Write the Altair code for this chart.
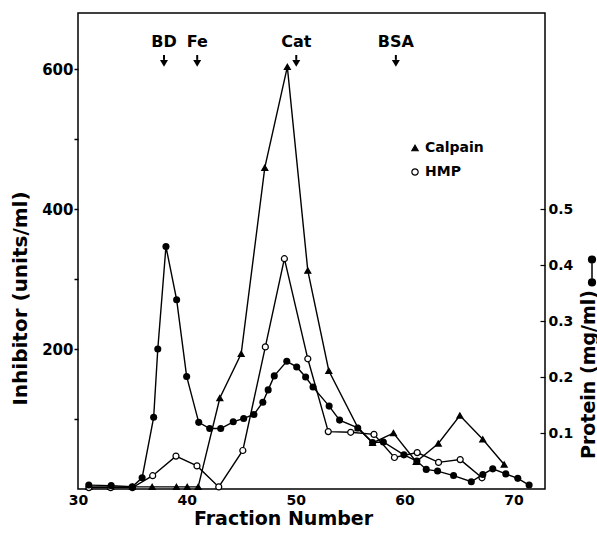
import altair as alt
import pandas as pd

# ---------------- data ----------------
calp_x = [31, 33, 35, 36.81, 39.04, 40.03, 41.04, 43.03, 44.99, 47.16, 49.23, 51.11,
          53.04, 55.73, 57.06, 58.98, 61.07, 63.10, 65.08, 67.18, 69.15]
calp_y = [3, 3, 3, 3, 3, 3, 3, 130, 193, 459, 603, 312,
          169, 87, 66, 80, 39, 65, 105, 71, 35]

hmp_x = [31, 33, 35, 36.86, 39.0, 40.93, 42.93, 45.14, 47.21, 48.96, 51.11, 52.99,
         55.05, 57.19, 59.07, 61.16, 63.12, 65.11, 67.11]
hmp_y = [2, 2, 2, 19, 47, 33, 3, 55, 203, 329, 186, 82,
         81, 78, 45, 52, 38, 42, 16]

prot_x = [30.99, 33.05, 34.98, 35.89, 36.95, 37.33, 38.08, 39.06, 39.98, 41.09, 42.10,
          43.11, 44.26, 45.22, 46.16, 46.98, 47.47, 48.03, 49.18, 50.09, 50.91, 51.59,
          53.07, 54.03, 55.70, 57.06, 58.05, 59.94, 61.13, 61.99, 63.03, 64.50, 66.13,
          67.19, 68.10, 69.30, 70.40, 71.44]
prot_y = [0.007, 0.006, 0.004, 0.020, 0.128, 0.250, 0.433, 0.338, 0.201, 0.119, 0.108,
          0.108, 0.120, 0.126, 0.133, 0.155, 0.177, 0.202, 0.228, 0.218, 0.200, 0.182,
          0.148, 0.123, 0.109, 0.083, 0.084, 0.061, 0.050, 0.035, 0.032, 0.024, 0.013,
          0.026, 0.036, 0.027, 0.019, 0.007]

marker_names = ["BD", "Fe", "Cat", "BSA"]
marker_x = [37.9, 40.95, 50.05, 59.2]
label_level = 638
shaft_top_level = 620
shaft_bot_level = 613
head_level = 608

x_ticks = [30, 40, 50, 60, 70]
left_ticks = [100, 200, 300, 400, 500, 600]
right_ticks = [0.1, 0.2, 0.3, 0.4, 0.5]

FONT = "DejaVu Sans"
PROT_SYMBOL = ("M0,-0.95L0,0.95"
               "M0.28,-0.95A0.28,0.28,0,1,1,-0.28,-0.95A0.28,0.28,0,1,1,0.28,-0.95Z"
               "M0.28,0.95A0.28,0.28,0,1,1,-0.28,0.95A0.28,0.28,0,1,1,0.28,0.95Z")

# ---------------- tables ----------------
df_ch = pd.concat([
    pd.DataFrame({"fraction": calp_x, "value": calp_y, "series": "Calpain"}),
    pd.DataFrame({"fraction": hmp_x, "value": hmp_y, "series": "HMP"}),
])
df_p = pd.DataFrame({"fraction": prot_x, "protein": prot_y, "pseries": "Protein"})
df_m = pd.DataFrame({
    "name": marker_names, "fraction": marker_x,
    "label_y": [label_level] * 4, "shaft_top": [shaft_top_level] * 4,
    "shaft_bot": [shaft_bot_level] * 4, "head": [head_level] * 4,
})

xscale = alt.Scale(domain=[30, 72.9], nice=False, zero=False)
lscale = alt.Scale(domain=[0, 680], nice=False)
rscale = alt.Scale(domain=[0, 0.85], nice=False)

x_axis = alt.Axis(
    values=x_ticks, ticks=False, domain=False, grid=False, labelFlush=False,
    labelFont=FONT, labelFontWeight="bold", labelFontSize=14, labelColor="black",
    labelPadding=4,
    title="Fraction Number", titleFont=FONT, titleFontWeight="bold", titleFontSize=19,
    titleColor="black", titleX=205, titleY=35, titleBaseline="alphabetic",
    titleAlign="center")

left_axis = alt.Axis(
    values=left_ticks, labelExpr="datum.value % 200 == 0 ? datum.label : ''",
    labelFlush=False,
    tickSize=4, tickColor="black", tickWidth=1.5, domain=False, grid=False,
    labelFont=FONT, labelFontWeight="bold", labelFontSize=15, labelColor="black",
    labelPadding=1,
    title="Inhibitor (units/ml)", titleFont=FONT, titleFontWeight="bold",
    titleFontSize=20, titleColor="black", titleX=-52, titleY=285, titleAngle=270,
    titleBaseline="alphabetic", titleAlign="center")

right_axis = alt.Axis(
    orient="right", values=right_ticks, format=".1f", offset=-5, labelFlush=False,
    tickSize=5, tickColor="black", tickWidth=1.2, domain=False, grid=False,
    labelFont=FONT, labelFontWeight="bold", labelFontSize=14, labelColor="black",
    labelPadding=3,
    title="Protein (mg/ml)", titleFont=FONT, titleFontWeight="bold",
    titleFontSize=19, titleColor="black", titleX=54, titleY=361, titleAngle=270,
    titleBaseline="alphabetic", titleAlign="center")


def xe():
    return alt.X("fraction:Q", scale=xscale, axis=x_axis)


def yl(field):
    return alt.Y(field, scale=lscale, axis=left_axis)


def yr(field):
    return alt.Y(field, scale=rscale, axis=right_axis)


leg = alt.Legend(orient="none", legendX=330, legendY=128, title=None,
                 labelFont=FONT, labelFontWeight="bold", labelFontSize=14,
                 labelColor="black", symbolSize=40, symbolStrokeColor="black",
                 symbolStrokeWidth=1.2, rowPadding=10, labelOffset=3, padding=0)

series_dom = ["Calpain", "HMP"]

ch_lines = alt.Chart(df_ch).mark_line(color="black", strokeWidth=1.4).encode(
    x=xe(), y=yl("value:Q"), detail="series:N")

ch_pts = alt.Chart(df_ch).mark_point(filled=True, strokeWidth=1.2,
                                     opacity=1, size=36).encode(
    x=xe(), y=yl("value:Q"),
    shape=alt.Shape("series:N", scale=alt.Scale(domain=series_dom,
                                                range=["triangle-up", "circle"]),
                    legend=leg),
    fill=alt.Fill("series:N", scale=alt.Scale(domain=series_dom,
                                              range=["black", "white"]),
                  legend=leg),
    stroke=alt.Stroke("series:N", scale=alt.Scale(domain=series_dom,
                                                  range=["black", "black"]),
                      legend=leg),
)

m_text = alt.Chart(df_m).mark_text(font=FONT, fontWeight="bold", fontSize=16,
                                   baseline="middle", color="black").encode(
    x=xe(), y=yl("label_y:Q"), text="name:N")
m_shaft = alt.Chart(df_m).mark_rule(color="black", strokeWidth=2).encode(
    x=xe(), y=yl("shaft_top:Q"), y2="shaft_bot:Q")
m_head = alt.Chart(df_m).mark_point(shape="triangle-down", filled=True, color="black",
                                    size=64, opacity=1).encode(
    x=xe(), y=yl("head:Q"))

left = alt.layer(ch_lines, ch_pts, m_text, m_shaft, m_head)

p_line = alt.Chart(df_p).mark_line(color="black", strokeWidth=1.4).encode(
    x=xe(), y=yr("protein:Q"))
p_pts = alt.Chart(df_p).mark_point(filled=True, size=50, opacity=1).encode(
    x=xe(), y=yr("protein:Q"),
    color=alt.Color("pseries:N", scale=alt.Scale(domain=["Protein"], range=["black"]),
                    legend=alt.Legend(orient="none", legendX=501, legendY=245,
                                      title=None, symbolType=PROT_SYMBOL,
                                      symbolSize=576, symbolStrokeColor="black",
                                      symbolFillColor="black", symbolStrokeWidth=1.5,
                                      labelExpr="''", padding=0)))
right = alt.layer(p_line, p_pts)

chart = alt.layer(left, right).resolve_scale(y="independent").properties(
    width=467, height=476,
    padding={"left": 78, "top": 13, "right": 52, "bottom": 47},
    autosize=alt.AutoSizeParams(type="none"),
    background="white",
).configure_view(stroke="black", strokeWidth=1.5)

chart.save("out.html", embed_options={"renderer": "svg", "actions": False})
